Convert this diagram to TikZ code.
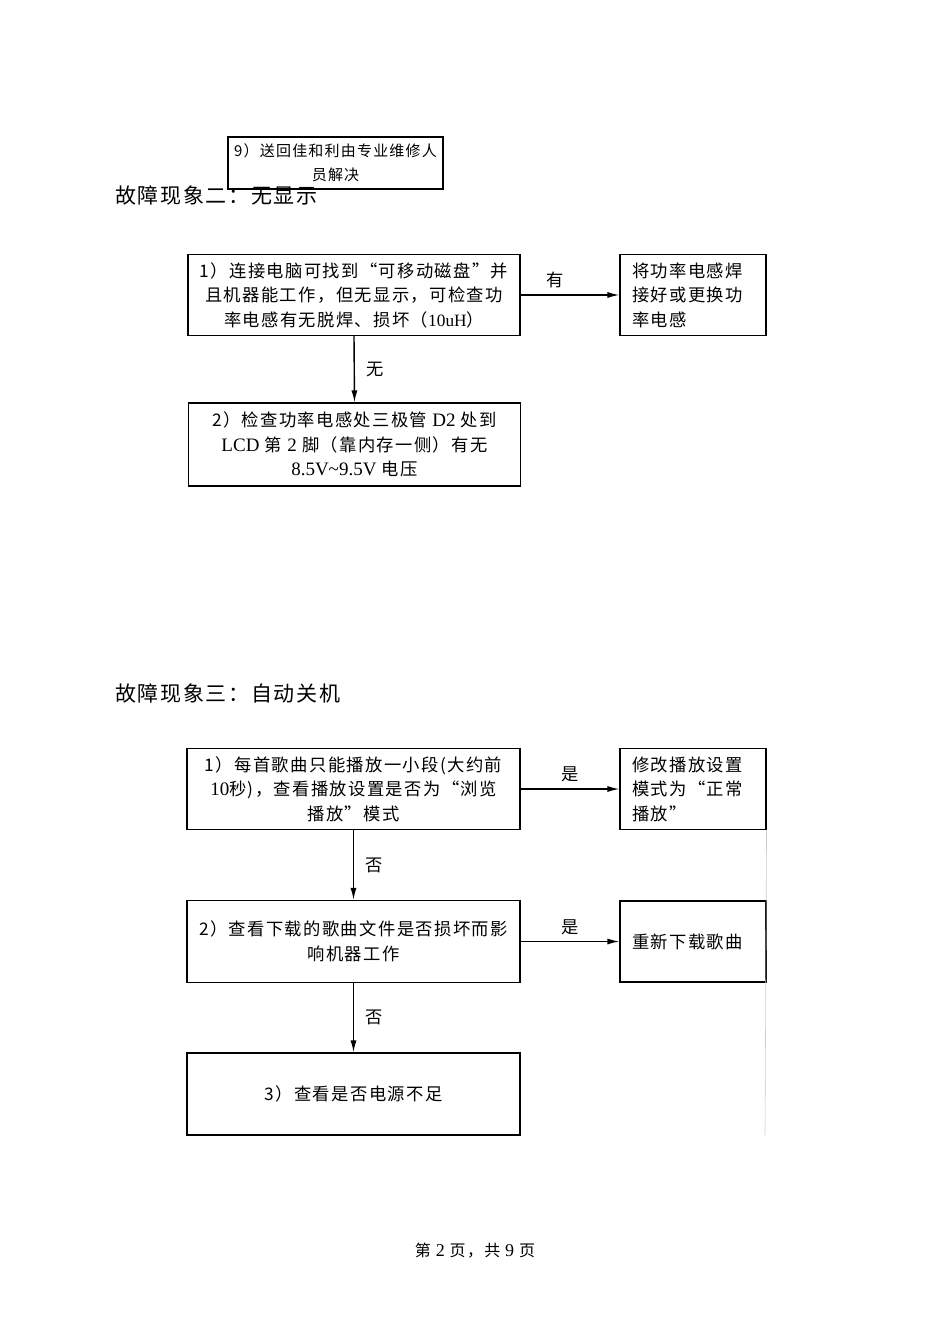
\documentclass[tikz,border=0pt]{standalone}
\usepackage{fontspec}
\setmainfont{Noto Sans CJK SC}[LetterSpace=8]
\newfontfamily\lat{Liberation Serif}
\usetikzlibrary{arrows.meta}
\begin{document}
\begin{tikzpicture}[x=1pt,y=-1pt,
  box/.style={draw,line width=1.1pt,inner sep=0pt,align=center,
    minimum width=332pt,minimum height=81pt,font=\fontsize{17.3}{24.5}\selectfont},
  sidebox/.style={draw,line width=1.1pt,inner ysep=0pt,inner xsep=12pt,align=left,
    text width=122pt,minimum height=81pt,font=\fontsize{17.3}{24.5}\selectfont},
  flow/.style={-{Latex[length=12pt,width=6pt]},line width=1.4pt},
  lbl/.style={font=\fontsize{17.3}{20}\selectfont},
  head/.style={anchor=west,inner sep=0pt,font=\fontsize{21}{25}\selectfont}]
\useasboundingbox[fill=white] (0,0) rectangle (950,1344);

% leftover box from the previous page
\node[draw,line width=1.1pt,inner sep=0pt,align=center,minimum width=215pt,
  minimum height=52pt,font=\fontsize{15}{24}\selectfont] (s9) at (335.5,163)
  {9）送回佳和利由专业维修人\\员解决};

% fault 2: no display
\node[head] (h2) at (115,196) {故障现象二：无显示};
\node[box] (a1) at (354,295)
  {1）连接电脑可找到“可移动磁盘”并\\且机器能工作，但无显示，可检查功\\率电感有无脱焊、损坏（{\lat 10uH}）};
\node[sidebox] (a1r) at (693,295) {将功率电感焊\\接好或更换功\\率电感};
\node[box,minimum height=83pt] (a2) at (354.5,444.5)
  {2）检查功率电感处三极管 {\lat\fontsize{19}{24.5}\selectfont D2} 处到\\{\lat\fontsize{19}{24.5}\selectfont LCD} 第 {\lat\fontsize{19}{24.5}\selectfont 2} 脚（靠内存一侧）有无\\{\lat\fontsize{19}{24.5}\selectfont 8.5V\textasciitilde 9.5V} 电压};
\draw[flow] (a1.east) -- (a1r.west) node[lbl,pos=0.35,above=3pt] {有};
\draw[flow] (a1.south) -- (a2.north) node[lbl,midway,right=8pt] {无};

% fault 3: auto power off
\node[head] (h3) at (115,693) {故障现象三：自动关机};
\node[box,minimum width=333pt] (b1) at (353.5,789)
  {1）每首歌曲只能播放一小段(大约前\\{\lat\fontsize{19}{24.5}\selectfont 10}秒)，查看播放设置是否为“浏览\\播放”模式};
\node[sidebox] (b1r) at (693,789) {修改播放设置\\模式为“正常\\播放”};
\node[box,minimum width=333pt,minimum height=82pt] (b2) at (353.5,941.5)
  {2）查看下载的歌曲文件是否损坏而影\\响机器工作};
\node[sidebox] (b2r) at (693,941.5) {重新下载歌曲};
\node[box,minimum width=333pt,minimum height=82pt] (b3) at (353.5,1094)
  {3）查看是否电源不足};
\draw[flow] (b1.east) -- (b1r.west) node[lbl,midway,above=3pt] {是};
\draw[flow] (b2.east) -- (b2r.west) node[lbl,midway,above=3pt] {是};
\draw[flow] (b1.south) -- (b2.north) node[lbl,midway,right=8pt] {否};
\draw[flow] (b2.south) -- (b3.north) node[lbl,midway,right=8pt] {否};
\draw[gray!40,line width=0.6pt] (b1r.south east) -- (765,1135);

% page footer
\node[font=\fontsize{16}{20}\selectfont] (foot) at (475,1251)
  {第 {\lat\fontsize{18}{20}\selectfont 2} 页，共 {\lat\fontsize{18}{20}\selectfont 9} 页};
\end{tikzpicture}
\end{document}
